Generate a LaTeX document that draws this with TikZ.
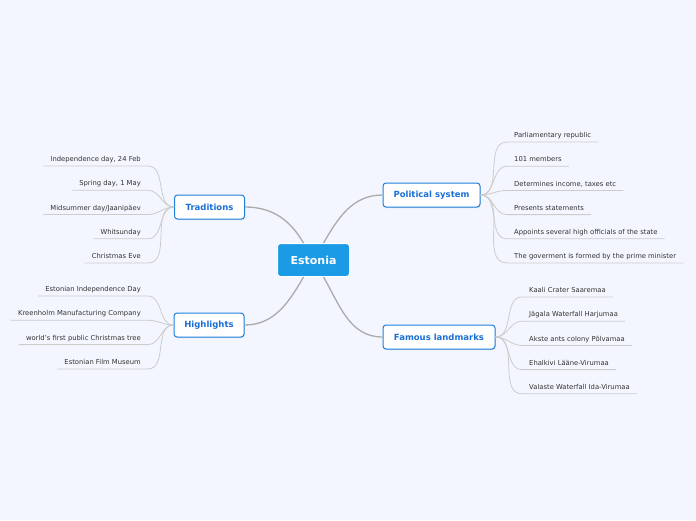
\documentclass[tikz,border=0pt]{standalone}
\usepackage{fontspec}
\setmainfont{DejaVu Sans}
\usetikzlibrary{shadows}
\definecolor{bgcol}{HTML}{F3F6FE}
\definecolor{rootcol}{HTML}{1B9AE6}
\definecolor{branchcol}{HTML}{1E80DC}
\definecolor{branchtxt}{HTML}{1A6FD6}
\definecolor{leaftxt}{HTML}{333333}
\definecolor{mainedge}{HTML}{ABABAB}
\definecolor{leafedge}{HTML}{CCCCCC}
\tikzset{
  root/.style={fill=rootcol, draw=white, line width=1pt, rounded corners=3pt,
    text=white, font=\fontsize{11}{13}\selectfont\bfseries,
    minimum width=72pt, minimum height=33pt},
  branch/.style={fill=white, draw=branchcol, line width=1pt, rounded corners=3pt,
    text=branchtxt, font=\fontsize{8.5}{10}\selectfont\bfseries, minimum height=24pt,
    drop shadow={shadow xshift=0.6pt, shadow yshift=-1pt, opacity=0.25}},
  leaf/.style={text=leaftxt, font=\fontsize{6.8}{8}\selectfont,
    inner xsep=7pt, inner ysep=0pt, text height=5pt, text depth=4.2pt},
  mainline/.style={draw=mainedge, line width=1.3pt},
  leafline/.style={draw=leafedge, line width=0.8pt}
}
\begin{document}
\begin{tikzpicture}[x=1pt, y=-1pt]
    % Background
    \fill[bgcol] (0,0) rectangle (696,520);
    \useasboundingbox (0,0) rectangle (696,520);

    % Nodes
    \node[root] (est) at (313.5, 260) {Estonia};
    \node[branch, minimum width=70pt] (trad) at (209.5, 207) {Traditions};
    \node[branch, minimum width=70pt] (high) at (209, 325) {Highlights};
    \node[branch, minimum width=97pt] (pol) at (431.5, 195) {Political system};
    \node[branch, minimum width=112pt] (land) at (439, 337) {Famous landmarks};

    % Leaves
    \foreach \txt [count=\i] in {{Independence day, 24 Feb}, {Spring day, 1 May},
        Midsummer day/Jaanipäev, Whitsunday, Christmas Eve}
        \node[leaf, anchor=south east] (trad\i) at (148, 166 + 24.25*\i - 24.25) {\txt};
    \foreach \txt [count=\i] in {Estonian Independence Day, Kreenholm Manufacturing Company,
        world's first public Christmas tree, Estonian Film Museum}
        \node[leaf, anchor=south east] (high\i) at (148, 296 + 24.3*\i - 24.3) {\txt};
    \foreach \txt [count=\i] in {Parliamentary republic, 101 members,
        {Determines income, taxes etc}, Presents statements,
        Appoints several high officials of the state,
        The goverment is formed by the prime minister}
        \node[leaf, anchor=south west] (pol\i) at (507, 142 + 24.2*\i - 24.2) {\txt};
    \foreach \txt [count=\i] in {Kaali Crater Saaremaa, Jägala Waterfall Harjumaa,
        Akste ants colony Põlvamaa, Ehalkivi Lääne-Virumaa, Valaste Waterfall Ida-Virumaa}
        \node[leaf, anchor=south west] (land\i) at (522, 297 + 24.2*\i - 24.2) {\txt};

    % Drawing
    \draw[mainline] (trad.east) to[out=0, in=120] ([xshift=-10pt]est.north);
    \draw[mainline] (high.east) to[out=0, in=-120] ([xshift=-10pt]est.south);
    \draw[mainline] ([xshift=10pt]est.north) to[out=60, in=180] (pol.west);
    \draw[mainline] ([xshift=10pt]est.south) to[out=-60, in=180] (land.west);

    \foreach \i in {1,...,5}
        \draw[leafline] (trad\i.south west) -- (trad\i.south east) to[out=0, in=180] (trad.west);
    \foreach \i in {1,...,4}
        \draw[leafline] (high\i.south west) -- (high\i.south east) to[out=0, in=180] (high.west);
    \foreach \i in {1,...,6}
        \draw[leafline] (pol.east) to[out=0, in=180] (pol\i.south west) -- (pol\i.south east);
    \foreach \i in {1,...,5}
        \draw[leafline] (land.east) to[out=0, in=180] (land\i.south west) -- (land\i.south east);
\end{tikzpicture}
\end{document}
